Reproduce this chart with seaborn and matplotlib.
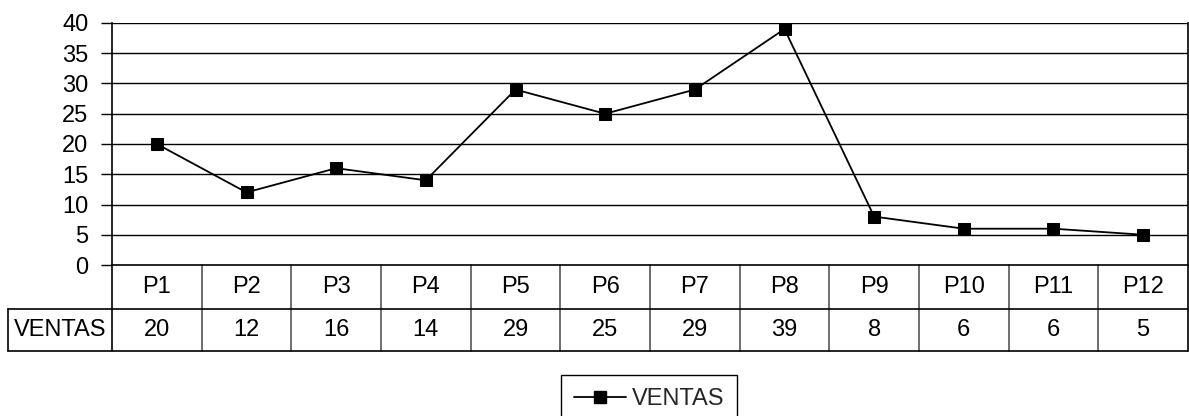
import matplotlib
matplotlib.use("Agg")
import matplotlib.pyplot as plt
import matplotlib.transforms as mtransforms
from matplotlib.lines import Line2D
import seaborn as sns
import pandas as pd

# Monthly sales per period
periods = ["P1", "P2", "P3", "P4", "P5", "P6", "P7", "P8", "P9", "P10", "P11", "P12"]
ventas = [20, 12, 16, 14, 29, 25, 29, 39, 8, 6, 6, 5]
series_name = "VENTAS"
y_ticks = [0, 5, 10, 15, 20, 25, 30, 35, 40]

sns.set_theme(style="white")
plt.rcParams["font.family"] = ["Liberation Sans", "DejaVu Sans"]

FS = 17
W, H = 1189, 416
fig = plt.figure(figsize=(W / 100, H / 100), dpi=100)
left, right, top, bottom = 112, 1188, 23, 265
ax = fig.add_axes([left / W, 1 - bottom / H, (right - left) / W, (bottom - top) / H])

df = pd.DataFrame({"pos": range(len(periods)), "ventas": ventas})
sns.lineplot(data=df, x="pos", y="ventas", ax=ax, color="black", linewidth=1.3,
             marker="s", markersize=8.2, markeredgecolor="black",
             markerfacecolor="black", legend=False)

ax.set_xlim(-0.5, len(periods) - 0.5)
ax.set_ylim(0, 40)
ax.set_yticks(y_ticks)
ax.set_xticks([])
ax.set_xlabel("")
ax.set_ylabel("")
ax.tick_params(axis="y", which="both", left=True, length=8, width=1, color="black",
               labelsize=FS, pad=9, labelcolor="black")
for yv in y_ticks[1:]:
    ax.axhline(yv, color="black", linewidth=1, zorder=0)
for side in ["left", "right", "bottom"]:
    ax.spines[side].set_visible(True)
    ax.spines[side].set_color("black")
    ax.spines[side].set_linewidth(1.2)
ax.spines["top"].set_visible(False)

# Data table beneath the plot: column borders in data x, rows in axes fraction
axh = bottom - top
row1 = -(309 - bottom) / axh
row2 = -(351 - bottom) / axh
trans = mtransforms.blended_transform_factory(ax.transData, ax.transAxes)
label_left = -0.5 - (left - 8) / ((right - left) / len(periods))

kw = dict(transform=trans, clip_on=False, color="black")
for i in range(len(periods) + 1):
    xv = i - 0.5
    c = "black" if i in (0, len(periods)) else "#555555"
    ax.add_line(Line2D([xv, xv], [0, row2], transform=trans, clip_on=False,
                       color=c, linewidth=1.2))
ax.add_line(Line2D([label_left, len(periods) - 0.5], [row1, row1], linewidth=1.2, **kw))
ax.add_line(Line2D([label_left, len(periods) - 0.5], [row2, row2], linewidth=1.2, **kw))
ax.add_line(Line2D([label_left, label_left], [row1, row2], linewidth=1.2, **kw))

for i, (p, v) in enumerate(zip(periods, ventas)):
    ax.text(i, row1 / 2, p, ha="center", va="center", fontsize=FS, **kw)
    ax.text(i, (row1 + row2) / 2, str(v), ha="center", va="center", fontsize=FS, **kw)
ax.text((label_left - 0.5) / 2, (row1 + row2) / 2, series_name, ha="center",
        va="center", fontsize=FS, **kw)

handle = Line2D([], [], color="black", linewidth=1.3, marker="s", markersize=8.2)
leg = fig.legend([handle], [series_name], loc="upper center",
                 bbox_to_anchor=(649 / W, 1 - 375 / H), fontsize=FS, frameon=True,
                 fancybox=False, framealpha=1, edgecolor="black", handlelength=2.2,
                 handletextpad=0.25, borderpad=0.55, borderaxespad=0)
leg.get_frame().set_linewidth(1.0)

fig.savefig("out.png", dpi=100)
